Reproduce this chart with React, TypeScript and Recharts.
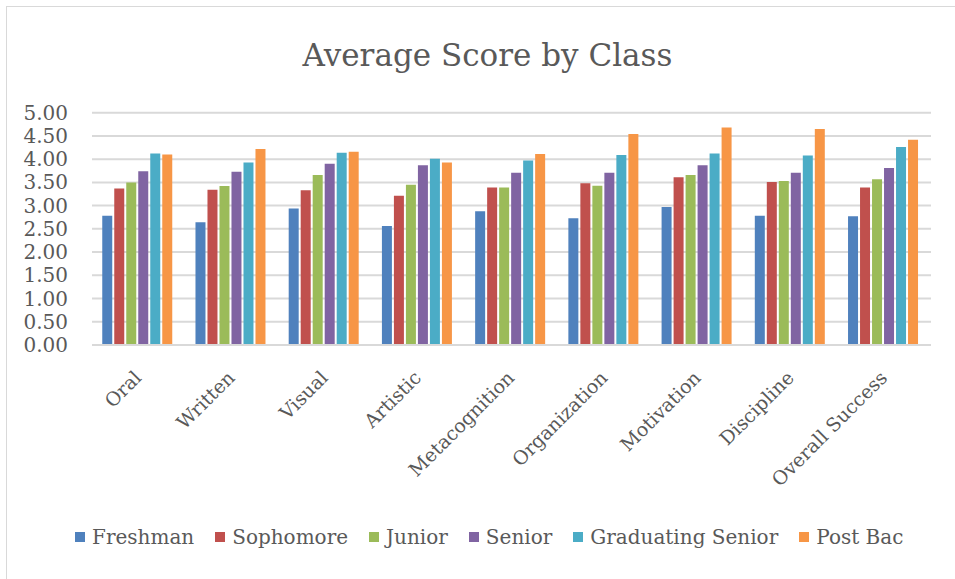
import React from 'react';
import { Bar, BarChart, CartesianGrid, XAxis, YAxis } from 'recharts';

const categories = ['Oral', 'Written', 'Visual', 'Artistic', 'Metacognition', 'Organization', 'Motivation', 'Discipline', 'Overall Success'];

const freshman = [2.78, 2.64, 2.94, 2.56, 2.88, 2.73, 2.97, 2.78, 2.77];
const sophomore = [3.37, 3.34, 3.33, 3.21, 3.39, 3.48, 3.61, 3.51, 3.39];
const junior = [3.50, 3.42, 3.66, 3.45, 3.39, 3.43, 3.66, 3.53, 3.57];
const senior = [3.74, 3.73, 3.90, 3.87, 3.71, 3.71, 3.87, 3.71, 3.81];
const graduatingSenior = [4.12, 3.93, 4.14, 4.01, 3.97, 4.09, 4.12, 4.08, 4.26];
const postBac = [4.10, 4.22, 4.16, 3.93, 4.11, 4.54, 4.68, 4.65, 4.42];

const yTicks = [0, 0.5, 1, 1.5, 2, 2.5, 3, 3.5, 4, 4.5, 5];

const series = [
  { key: 'freshman', name: 'Freshman', color: '#4F81BD', values: freshman },
  { key: 'sophomore', name: 'Sophomore', color: '#C0504D', values: sophomore },
  { key: 'junior', name: 'Junior', color: '#9BBB59', values: junior },
  { key: 'senior', name: 'Senior', color: '#8064A2', values: senior },
  { key: 'graduatingSenior', name: 'Graduating Senior', color: '#4BACC6', values: graduatingSenior },
  { key: 'postBac', name: 'Post Bac', color: '#F79646', values: postBac },
];

const data = categories.map((category, i) => {
  const row: any = { category };
  series.forEach((s) => {
    row[s.key] = s.values[i];
  });
  return row;
});

const font = '"DejaVu Serif", serif';
const textColor = '#595959';

const CategoryTick = ({ x, y, payload }: any) => {
  const tx = x + 4;
  const ty = y + 32;
  return (
    <text
      x={tx}
      y={ty}
      textAnchor="end"
      fill={textColor}
      fontSize={19}
      fontFamily={font}
      transform={`rotate(-45, ${tx}, ${ty})`}
    >
      {payload.value}
    </text>
  );
};

const App = () => {
  return (
    <div
      style={{
        position: 'absolute',
        left: 6,
        top: 6,
        width: 960,
        height: 590,
        border: '1px solid #d9d9d9',
        background: '#fff',
        fontFamily: font,
      }}
    >
      <div
        style={{
          position: 'absolute',
          left: 0,
          top: 33,
          width: 961,
          textAlign: 'center',
          fontSize: 31,
          lineHeight: '31px',
          color: textColor,
        }}
      >
        Average Score by Class
      </div>
      <BarChart
        width={948}
        height={572}
        data={data}
        margin={{ top: 105.7, right: 24, left: 0, bottom: 0 }}
        barCategoryGap="11%"
        barGap={2}
      >
        <CartesianGrid vertical={false} stroke="#d9d9d9" strokeWidth={2} />
        <XAxis
          dataKey="category"
          interval={0}
          height={234}
          tickLine={false}
          tickSize={0}
          axisLine={{ stroke: '#d9d9d9', strokeWidth: 2 }}
          tick={<CategoryTick />}
        />
        <YAxis
          domain={[0, 5]}
          ticks={yTicks}
          interval={0}
          width={85}
          axisLine={false}
          tickLine={false}
          tickSize={0}
          tickMargin={24}
          tickFormatter={(v: number) => v.toFixed(2)}
          tick={{ fill: textColor, fontSize: 20, fontFamily: font }}
        />
        {series.map((s) => (
          <Bar key={s.key} dataKey={s.key} name={s.name} fill={s.color} isAnimationActive={false} />
        ))}
      </BarChart>
      <div
        style={{
          position: 'absolute',
          left: 68,
          top: 518,
          height: 24,
          display: 'flex',
          alignItems: 'center',
          gap: 21,
          fontSize: 20,
          color: textColor,
          whiteSpace: 'nowrap',
        }}
      >
        {series.map((s) => (
          <div key={s.key} style={{ display: 'flex', alignItems: 'center' }}>
            <span style={{ display: 'inline-block', width: 10, height: 10, background: s.color, marginRight: 7 }} />
            <span>{s.name}</span>
          </div>
        ))}
      </div>
    </div>
  );
};

export default App;
